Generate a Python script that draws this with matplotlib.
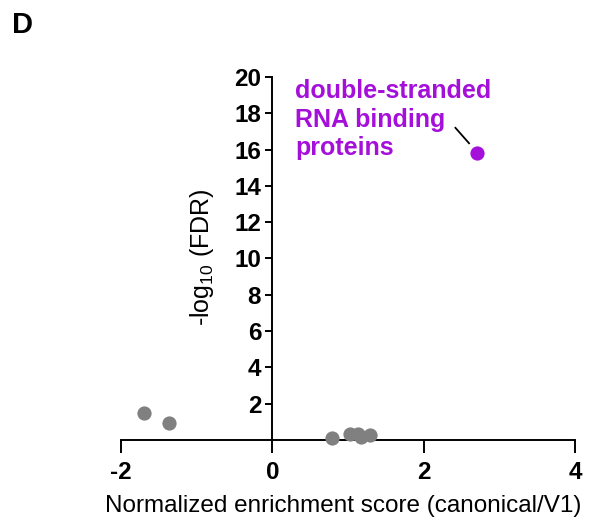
import matplotlib
matplotlib.use('Agg')
import matplotlib.pyplot as plt

plt.rcParams['font.family'] = ['Liberation Sans', 'DejaVu Sans']
plt.rcParams['mathtext.fontset'] = 'custom'
plt.rcParams['mathtext.rm'] = 'Liberation Sans'
plt.rcParams['mathtext.it'] = 'Liberation Sans:italic'
plt.rcParams['mathtext.bf'] = 'Liberation Sans:bold'

# enrichment results per gene set
nes_other = [-1.69, -1.37, 0.79, 1.03, 1.13, 1.17, 1.29]
fdr_other = [1.50, 0.95, 0.13, 0.31, 0.31, 0.18, 0.27]
nes_dsrna = [2.71]
fdr_dsrna = [15.8]
dsrna_label = 'double-stranded\nRNA binding\nproteins'

xticks = [-2, 0, 2, 4]
yticks = [2, 4, 6, 8, 10, 12, 14, 16, 18, 20]

gray = '#808080'
purple = '#a410d9'

fig = plt.figure(figsize=(5.93, 5.21), dpi=100)
ax = fig.add_axes([0.204, 0.1555, 0.7656, 0.6967])

ax.scatter(nes_other, fdr_other, s=105, color=gray, zorder=3, clip_on=False, linewidths=0)
ax.scatter(nes_dsrna, fdr_dsrna, s=105, color=purple, zorder=3, clip_on=False, linewidths=0)

ax.set_xlim(-2, 4)
ax.set_ylim(0, 20)

# Prism style: y axis crosses at x = 0
ax.spines['left'].set_position(('data', 0))
ax.spines['top'].set_visible(False)
ax.spines['right'].set_visible(False)
for sp in ['left', 'bottom']:
    ax.spines[sp].set_linewidth(1.4)

ax.set_xticks(xticks)
ax.set_xticklabels([str(t) for t in xticks], fontsize=17.5, fontweight='bold')
ax.set_yticks(yticks)
ax.set_yticklabels([str(t) for t in yticks], fontsize=17.5, fontweight='bold')
ax.tick_params(axis='x', direction='out', length=9, width=1.4, pad=6)
ax.tick_params(axis='y', direction='out', length=5, width=1.4, pad=3)

ax.set_xlabel('Normalized enrichment score (canonical/V1)', fontsize=17.5, labelpad=8)
ax.xaxis.label.set_x(0.49)
ax.set_ylabel(r'-log$_{\mathrm{10}}$ (FDR)', fontsize=18)
ax.yaxis.set_label_coords(-0.75, 10.05, transform=ax.transData)

ax.text(0.30, 19.9, dsrna_label, color=purple, fontsize=18, fontweight='bold',
        ha='left', va='top', linespacing=1.25)
ax.plot([2.42, 2.60], [17.2, 16.35], color='black', lw=1.3)

fig.text(0.02, 0.978, 'D', fontsize=21, fontweight='bold', ha='left', va='top')

fig.savefig('out.png', dpi=100)
